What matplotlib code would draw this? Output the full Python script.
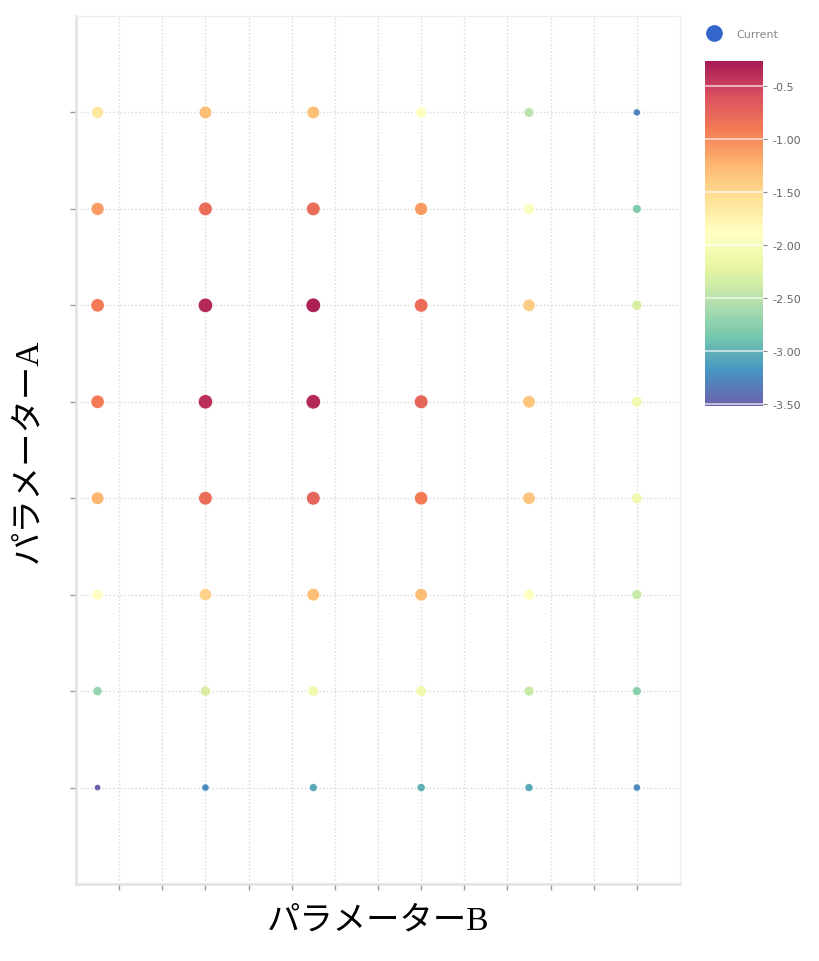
import matplotlib.pyplot as plt
import numpy as np
from matplotlib.colors import Normalize
from matplotlib.lines import Line2D

# x / y positions of the grid of measurements
param_b = [0.5, 3.0, 5.5, 8.0, 10.5, 13.0]
param_a = [8, 7, 6, 5, 4, 3, 2, 1]

# current values, rows from top (A=8) to bottom (A=1)
current = [
    [-1.60, -1.30, -1.30, -1.90, -2.50, -3.30],
    [-1.10, -0.80, -0.80, -1.10, -1.95, -2.80],
    [-0.90, -0.35, -0.30, -0.80, -1.40, -2.30],
    [-0.90, -0.40, -0.35, -0.75, -1.35, -2.10],
    [-1.25, -0.80, -0.75, -0.90, -1.35, -2.10],
    [-1.90, -1.45, -1.30, -1.30, -1.90, -2.40],
    [-2.70, -2.30, -2.10, -2.10, -2.40, -2.75],
    [-3.50, -3.25, -3.05, -3.00, -3.05, -3.25],
]

cbar_ticks = [-0.5, -1.0, -1.5, -2.0, -2.5, -3.0, -3.5]
cbar_labels = ['-0.5', '-1.00', '-1.50', '-2.00', '-2.50', '-3.00', '-3.50']

X, Y = np.meshgrid(param_b, param_a)
C = np.array(current)
sizes = 22 + (C + 3.5) * 28

fig = plt.figure(figsize=(8.2, 9.62), dpi=100)
ax = fig.add_axes([76 / 820, 1 - 885 / 962, 604 / 820, 868 / 962])

norm = Normalize(vmin=-3.52, vmax=-0.26)
cmap = plt.get_cmap('Spectral_r')
sc = ax.scatter(X.ravel(), Y.ravel(), c=C.ravel(), s=sizes.ravel(), cmap=cmap, norm=norm,
                edgecolors='white', linewidths=0.6, alpha=0.9, zorder=3)

ax.set_xlim(0, 14)
ax.set_ylim(0, 9)
ax.set_xticks(np.arange(1, 14))
ax.set_yticks(param_a)
ax.set_xticklabels([])
ax.set_yticklabels([])
ax.grid(True, color='#d8d8d8', linestyle=':', linewidth=1.0)
ax.tick_params(colors='#999999', length=4, width=1)
for s in ax.spines.values():
    s.set_color('#e2e2e2')
    s.set_linewidth(1.8)
ax.spines['right'].set_color('#eeeeee')
ax.spines['right'].set_linewidth(1.0)
ax.spines['top'].set_color('#eeeeee')
ax.spines['top'].set_linewidth(1.0)

lab_font = ['Liberation Serif', 'Noto Sans CJK JP']
ax.set_xlabel('パラメーターB', family=lab_font, fontsize=24, labelpad=8)
ax.set_ylabel('パラメーターA', family=lab_font, fontsize=24, labelpad=16)

# colorbar
cax = fig.add_axes([705 / 820, 1 - 407 / 962, 58 / 820, 345 / 962])
cb = fig.colorbar(sc, cax=cax)
cb.set_ticks(cbar_ticks)
cb.set_ticklabels(cbar_labels)
cb.outline.set_visible(False)
cax.tick_params(length=3, colors='#888888', labelsize=8, labelcolor='#666666')
for t in cbar_ticks:
    cax.axhline(t, color='white', linewidth=1.2, alpha=0.7)

# legend
handle = Line2D([], [], marker='o', linestyle='none', color='#3366cc', markersize=11)
fig.legend([handle], ['Current'], loc='center left', bbox_to_anchor=(693 / 820, 1 - 35 / 962),
           frameon=False, fontsize=8, labelcolor='#888888', handletextpad=1.0)

fig.savefig('out.png', dpi=100)
